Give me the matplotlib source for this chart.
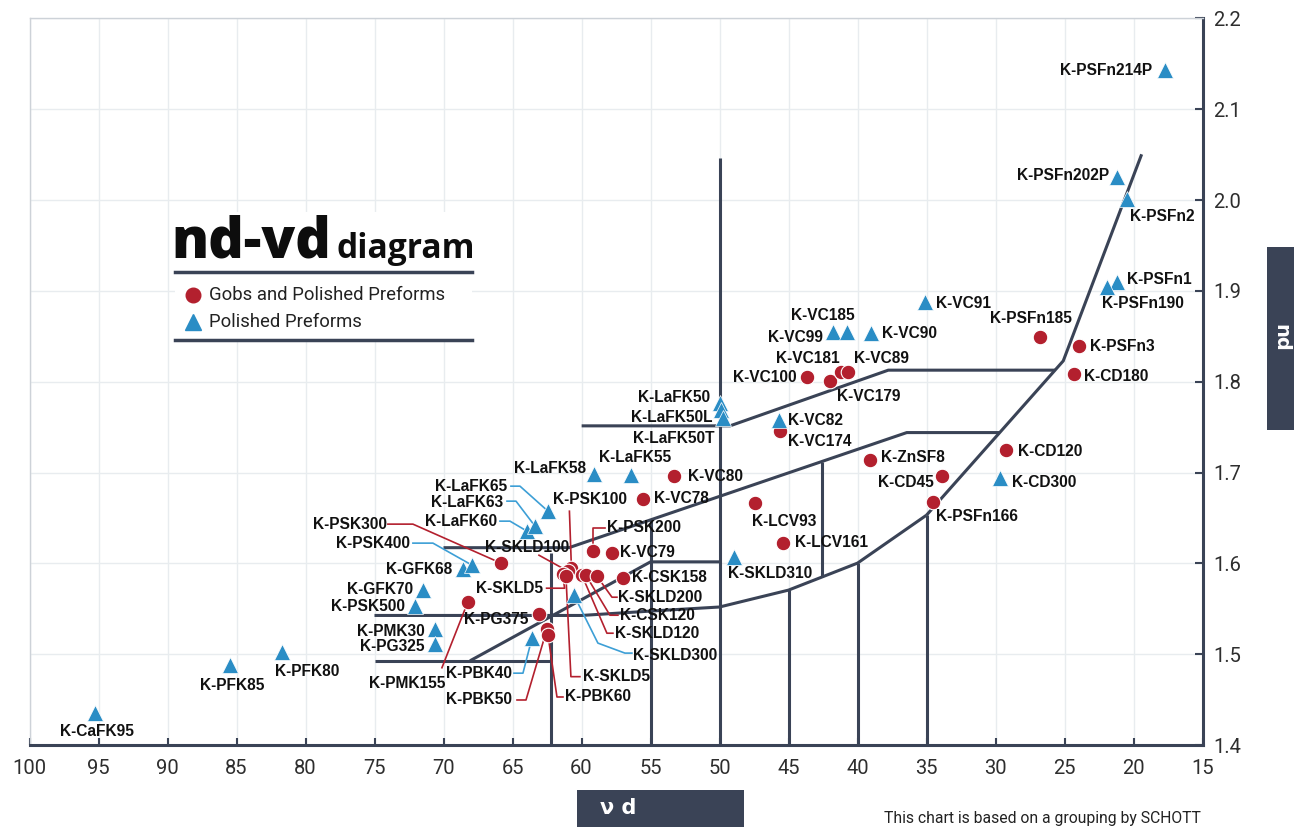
import matplotlib
matplotlib.use("Agg")
import matplotlib.pyplot as plt
from matplotlib.lines import Line2D
from matplotlib.patches import Rectangle
from matplotlib.transforms import IdentityTransform

W, H, DPI = 1294, 827, 100

# ---------------- data ----------------
tri_names = ["K-CaFK95", "K-PFK85", "K-PFK80", "K-GFK70", "K-PSK500", "K-PMK30", "K-PG325",
             "K-GFK68", "K-PSK400", "K-LaFK60", "K-LaFK63", "K-LaFK65", "K-LaFK58", "K-LaFK55",
             "K-LaFK50", "K-LaFK50L", "K-LaFK50T", "K-VC82", "K-SKLD310", "K-SKLD300", "K-PBK40",
             "K-VC99", "K-VC185", "K-VC90", "K-VC91", "K-PSFn1", "K-PSFn190", "K-PSFn2",
             "K-PSFn202P", "K-PSFn214P", "K-CD300"]
tri_vd = [95.25, 85.47, 81.70, 71.45, 72.07, 70.62, 70.62, 68.59, 67.94, 63.95, 63.37, 62.43,
          59.10, 56.42, 49.96, 49.89, 49.75, 45.69, 48.95, 60.55, 63.59, 41.78, 40.77, 39.03,
          35.11, 21.22, 21.95, 20.50, 21.22, 17.72, 29.68]
tri_nd = [1.4352, 1.4880, 1.5023, 1.5711, 1.5530, 1.5276, 1.5108, 1.5937, 1.5981, 1.6355,
          1.6410, 1.6575, 1.6982, 1.6971, 1.7763, 1.7686, 1.7598, 1.7576, 1.6069, 1.5651,
          1.5177, 1.8545, 1.8545, 1.8539, 1.8875, 1.9098, 1.9043, 2.0008, 2.0250, 2.1428,
          1.6938]

circ_names = ["K-PSK300", "K-PMK155", "K-PG375", "K-PBK50", "K-PBK60", "K-PSK100", "K-SKLD100",
              "K-SKLD5", "K-SKLD5", "K-SKLD120", "K-CSK120", "K-SKLD200", "K-CSK158", "K-PSK200",
              "K-VC79", "K-VC78", "K-VC80", "K-LCV93", "K-LCV161", "K-VC174", "K-ZnSF8", "K-CD45",
              "K-PSFn166", "K-CD120", "K-CD180", "K-PSFn3", "K-PSFn185", "K-VC100", "K-VC179",
              "K-VC181", "K-VC89"]
circ_vd = [65.84, 68.23, 63.08, 62.50, 62.43, 60.73, 60.98, 61.37, 61.13, 59.97, 59.68, 58.88,
           57.00, 59.17, 57.79, 55.55, 53.30, 47.43, 45.40, 45.62, 39.10, 33.86, 34.51, 29.24,
           24.29, 23.93, 26.78, 43.69, 42.00, 41.20, 40.67]
circ_nd = [1.6003, 1.5578, 1.5443, 1.5278, 1.5212, 1.5947, 1.5914, 1.5881, 1.5865, 1.5870,
           1.5870, 1.5859, 1.5837, 1.6134, 1.6112, 1.6709, 1.6962, 1.6665, 1.6225, 1.7461,
           1.7138, 1.6965, 1.6679, 1.7248, 1.8082, 1.8393, 1.8495, 1.8055, 1.8011, 1.8110,
           1.8110]

# glass-group borders
border_right_vd = [19.41, 25.09, 35.0]
border_right_nd = [2.0503, 1.8229, 1.6531]
border_low_vd = [35.0, 40.0, 45.0, 50.0, 55.0, 60.0, 75.0]
border_low_nd = [1.6531, 1.6003, 1.5706, 1.5520, 1.5475, 1.5427, 1.5427]
border_a_vd = [70.0, 60.91, 36.43, 29.7]
border_a_nd = [1.6173, 1.6173, 1.744, 1.744]
border_b_vd = [59.99, 49.24, 37.77, 25.68]
border_b_nd = [1.7514, 1.7514, 1.8127, 1.8127]
border_c_vd = [75.0, 62.23]
border_c_nd = [1.4928, 1.4928]
border_d_vd = [68.08, 55.0, 50.0]
border_d_nd = [1.4928, 1.6017, 1.6017]
vert_vd = [62.23, 55.0, 50.0, 45.0, 42.59, 40.0, 35.0]
vert_lo = [1.4, 1.4, 1.4, 1.4, 1.5849, 1.4, 1.4]
vert_hi = [1.611, 1.6479, 2.046, 1.5706, 1.7121, 1.6003, 1.6531]

x_ticks = list(range(100, 14, -5))
y_ticks = [1.4, 1.5, 1.6, 1.7, 1.8, 1.9, 2.0, 2.1, 2.2]

# ---------------- label layout (pixel offsets from marker, y down) ----------------
tri_layout = [
    (2, 18, 'center', None), (2, 20, 'center', None), (25, 19, 'center', None),
    (-10, 0, 'right', None), (-10, 0, 'right', None), (-10, 2, 'right', None),
    (-10, 2, 'right', None), (-11, 0, 'right', None),
    (-62, -22, 'right', [(-59, -22), (-39, -22)]),
    (-30, -10, 'right', [(-27, -10), (-17, -10)]),
    (-32, -24, 'right', [(-28, -25), (-19, -25)]),
    (-41, -25, 'right', [(-37, -25), (-28, -25)]),
    (-8, -6, 'right', None), (4, -18, 'center', None),
    (-10, -6, 'right', None), (-9, 7, 'right', None), (-8, 20, 'right', None),
    (9, 0, 'left', None), (-6, 16, 'left', None),
    (59, 60, 'left', [(58, 58), (51, 58), (24, 48)]),
    (-20, 35, 'right', [(-18, 35), (-9, 35)]),
    (-10, 5, 'right', None), (-24, -17, 'center', None), (11, 1, 'left', None),
    (11, 1, 'left', None), (10, -2, 'left', None), (-5, 17, 'left', None),
    (3, 17, 'left', None), (-8, -2, 'right', None), (-13, 0, 'right', None),
    (12, 4, 'left', None),
]
circ_layout = [
    (-114, -39, 'right', [(-113, -39), (-88, -39)]),
    (-61, 82, 'center', [(-26, 66)]),
    (-11, 5, 'right', None),
    (-35, 71, 'right', [(-30, 71), (-21, 71)]),
    (17, 62, 'left', [(15, 62), (9, 62)]),
    (-18, -69, 'left', [(-2, -57)]),
    (-41, -24, 'center', [(-29, -16)]),
    (-20, 14, 'right', [(-16, 14), (2, 14)]),
    (17, 101, 'left', [(14, 101), (5, 101)]),
    (33, 58, 'left', [(31, 58), (25, 58)]),
    (34, 40, 'left', [(32, 40), (24, 40)]),
    (21, 21, 'left', [(20, 21), (15, 21)]),
    (9, -1, 'left', None),
    (14, -24, 'left', [(12, -23), (0, -23)]),
    (8, -1, 'left', None), (11, 0, 'left', None), (14, 0, 'left', None),
    (-3, 19, 'left', None), (12, 0, 'left', None), (8, 11, 'left', None),
    (11, -3, 'left', None), (-8, 7, 'right', None), (3, 15, 'left', None),
    (12, 1, 'left', None), (10, 2, 'left', None), (11, 1, 'left', None),
    (-9, -18, 'center', None), (-10, 1, 'right', None), (7, 16, 'left', None),
    (-1, -13, 'right', None), (6, -13, 'left', None),
]

DARK = '#3a4356'
RED = '#b3202e'
BLUE = '#2a8dc5'
BLUE_LEAD = '#3d9fd6'
GRID = '#e8ecef'

def fx(px):
    return px / W

def fy(py):
    return 1 - py / H

fig = plt.figure(figsize=(W / DPI, H / DPI), dpi=DPI)
ax = fig.add_axes([fx(29.5), fy(745.1), (1202.5 - 29.5) / W, (745.1 - 18.3) / H])
ax.set_xlim(100, 15)
ax.set_ylim(1.4, 2.2)
ax.yaxis.tick_right()
ax.set_xticks(x_ticks)
ax.set_xticklabels([str(v) for v in x_ticks])
ax.set_yticks(y_ticks)
ax.set_yticklabels([f"{v:.1f}" for v in y_ticks])
ax.grid(True, color=GRID, lw=1.0)
ax.set_axisbelow(True)
ax.tick_params(axis='x', direction='in', length=5, width=1.5, color=DARK, pad=10,
               labelsize=14.5, labelcolor='#2e2e2e')
ax.tick_params(axis='y', direction='in', length=6, width=1.5, color=DARK, pad=8,
               labelsize=14.5, labelcolor='#2e2e2e')
for lbl in ax.get_xticklabels() + ax.get_yticklabels():
    lbl.set_fontfamily('Roboto')
    lbl.set_fontweight('normal')
for s in ['bottom', 'right']:
    ax.spines[s].set_color(DARK)
    ax.spines[s].set_linewidth(2.2)
for s in ['top', 'left']:
    ax.spines[s].set_color('#cdd2d8')
    ax.spines[s].set_linewidth(1.0)

# borders
line_kw = dict(color=DARK, lw=2.2, zorder=2, solid_capstyle='butt', solid_joinstyle='miter')
for xs, ys in [(border_right_vd, border_right_nd), (border_low_vd, border_low_nd),
               (border_a_vd, border_a_nd), (border_b_vd, border_b_nd),
               (border_c_vd, border_c_nd), (border_d_vd, border_d_nd)]:
    ax.plot(xs, ys, **line_kw)
for v, lo, hi in zip(vert_vd, vert_lo, vert_hi):
    ax.plot([v, v], [lo, hi], **line_kw)

# markers
ax.plot(circ_vd, circ_nd, ls='none', marker='o', ms=10.5, color=RED, mec='white', mew=0.8,
        zorder=5, clip_on=False)
ax.plot(tri_vd, tri_nd, ls='none', marker='^', ms=11, color=BLUE, mec='white', mew=0.5,
        zorder=5, clip_on=False)

def place(names, xs, ys, layout, lead_color):
    for name, x, y, (dx, dy, ha, path) in zip(names, xs, ys, layout):
        ax.annotate(name, (x, y), xytext=(dx, -dy), textcoords='offset pixels', ha=ha,
                    va='center', fontsize=11.2, fontweight='bold', family='Liberation Sans',
                    color='#111111', zorder=6, annotation_clip=False)
        if path:
            px, py = ax.transData.transform((x, y))
            lx = [px + a for a, b in path] + [px]
            ly = [py - b for a, b in path] + [py]
            ax.add_line(Line2D(lx, ly, transform=IdentityTransform(), color=lead_color,
                               lw=1.2, zorder=4))

place(tri_names, tri_vd, tri_nd, tri_layout, BLUE_LEAD)
place(circ_names, circ_vd, circ_nd, circ_layout, RED)

# title / legend block
fig.add_artist(Rectangle((fx(175), fy(340)), (472 - 175) / W, (340 - 212) / H,
                         transform=fig.transFigure, facecolor='white', edgecolor='none',
                         zorder=2))
fig.text(fx(171), fy(258), "nd-vd", fontsize=40, fontweight='heavy', family='Open Sans',
         color='#0d0d0d', va='baseline', ha='left', zorder=3)
fig.text(fx(337), fy(258), "diagram", fontsize=24.2, fontweight='bold', family='Open Sans',
         color='#0d0d0d', va='baseline', ha='left', zorder=3)
for yy in (272, 340):
    fig.add_artist(Line2D([fx(175), fx(472)], [fy(yy), fy(yy)], color=DARK, lw=2.5,
                          transform=fig.transFigure, zorder=3))
fig.add_artist(Line2D([fx(193)], [fy(295)], marker='o', ms=10.5, color=RED, ls='none',
                      transform=fig.transFigure, zorder=3))
fig.add_artist(Line2D([fx(193)], [fy(322)], marker='^', ms=11, color=BLUE, ls='none',
                      transform=fig.transFigure, zorder=3))
fig.text(fx(209), fy(295), "Gobs and Polished Preforms", fontsize=13.3, family='Roboto',
         fontweight='normal', color='#222222', va='center', ha='left', zorder=3)
fig.text(fx(209), fy(322), "Polished Preforms", fontsize=13.3, family='Roboto',
         fontweight='normal', color='#222222', va='center', ha='left', zorder=3)

# axis title boxes
fig.add_artist(Rectangle((fx(577), fy(827)), (744 - 577) / W, (827 - 790) / H,
                         transform=fig.transFigure, facecolor=DARK, edgecolor='none', zorder=2))
fig.text(fx(600), fy(808), "ν d", fontsize=15, fontweight='bold', color='white',
         va='center', ha='left', zorder=3)
fig.add_artist(Rectangle((fx(1267), fy(430)), (1294 - 1267) / W, (430 - 247) / H,
                         transform=fig.transFigure, facecolor=DARK, edgecolor='none', zorder=2))
fig.text(fx(1281), fy(338), "nd", fontsize=14, fontweight='bold', color='white',
         va='center', ha='center', rotation=-90, zorder=3)

fig.text(fx(884), fy(818), "This chart is based on a grouping by SCHOTT", fontsize=11.3,
         family='Roboto', color='#222222', va='center', ha='left')

fig.savefig("out.png", dpi=DPI)
